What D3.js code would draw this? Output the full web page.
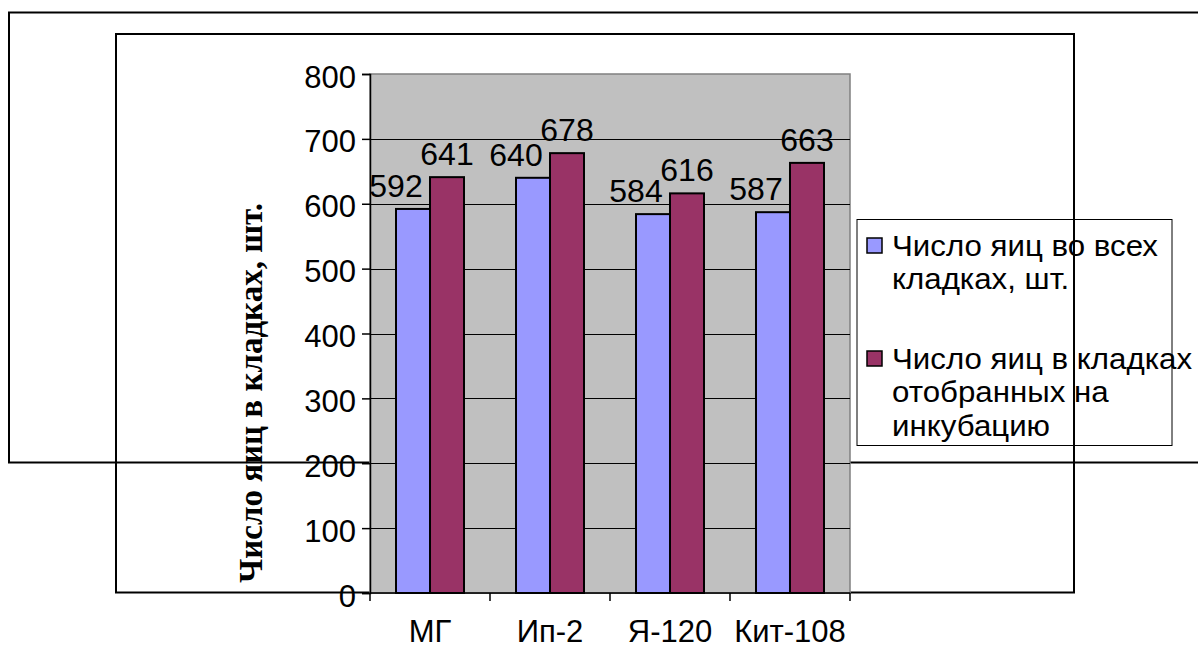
<!DOCTYPE html>
<html>
<head>
<meta charset="utf-8">
<script src="https://cdn.jsdelivr.net/npm/d3@7/dist/d3.min.js"></script>
<style>
  html, body { margin: 0; padding: 0; background: #fff; }
  svg { display: block; }
</style>
</head>
<body>
<svg id="chart" width="1198" height="648"></svg>
<script>
// Breeds (categories)
const categories = ["МГ", "Ип-2", "Я-120", "Кит-108"];
// Eggs in all clutches, pcs.
const eggsAll = [592, 640, 584, 587];
// Eggs in clutches selected for incubation
const eggsSelected = [641, 678, 616, 663];
// Series names
const seriesNames = ["Число яиц во всех кладках, шт.", "Число яиц в кладках отобранных на инкубацию"];
const seriesColors = ["#9999FF", "#993366"];
// Legend lines (wrapped)
const legendLines = [["Число яиц во всех", "кладках, шт."], ["Число яиц в кладках", "отобранных на", "инкубацию"]];
// Value axis ticks
const yTicks = [0, 100, 200, 300, 400, 500, 600, 700, 800];
const yTitle = "Число яиц в кладках, шт.";

const svg = d3.select("#chart");
const plot = { left: 370, right: 850, top: 74, bottom: 593 };

// Frames behind the chart
svg.append("rect").attr("x", 9).attr("y", 12.5).attr("width", 1250).attr("height", 450)
  .attr("fill", "none").attr("stroke", "#000").attr("stroke-width", 2);
svg.append("rect").attr("x", 116).attr("y", 34).attr("width", 958).attr("height", 558.5)
  .attr("fill", "none").attr("stroke", "#000").attr("stroke-width", 2);

const y = d3.scaleLinear().domain([0, 800]).range([plot.bottom, plot.top]);
const x0 = d3.scaleBand().domain(categories).range([plot.left, plot.right])
  .paddingInner(0.4333).paddingOuter(0.2167);
const x1 = d3.scaleBand().domain([0, 1]).range([0, x0.bandwidth()]);

// Plot area background
svg.append("rect").attr("x", plot.left).attr("y", plot.top)
  .attr("width", plot.right - plot.left).attr("height", plot.bottom - plot.top)
  .attr("fill", "#C0C0C0").attr("stroke", "#808080").attr("stroke-width", 1.5);

// Gridlines
svg.append("g").selectAll("line").data(yTicks.filter(d => d > 0 && d < 800)).join("line")
  .attr("x1", plot.left).attr("x2", plot.right)
  .attr("y1", d => Math.round(y(d)) + 0.5).attr("y2", d => Math.round(y(d)) + 0.5)
  .attr("stroke", "#000").attr("stroke-width", 1);

// Bars
const data = categories.map((c, i) => ({ cat: c, values: [eggsAll[i], eggsSelected[i]] }));
const groups = svg.append("g").selectAll("g").data(data).join("g")
  .attr("transform", d => `translate(${x0(d.cat)},0)`);
groups.selectAll("rect").data(d => d.values.map((v, k) => ({ v, k }))).join("rect")
  .attr("x", d => x1(d.k)).attr("width", x1.bandwidth())
  .attr("y", d => y(d.v)).attr("height", d => y(0) - y(d.v))
  .attr("fill", d => seriesColors[d.k]).attr("stroke", "#000").attr("stroke-width", 2);

// Value labels
groups.selectAll("text").data(d => d.values.map((v, k) => ({ v, k }))).join("text")
  .attr("x", d => x1(d.k) + x1.bandwidth() / 2 - (d.k === 0 ? 17 : 0))
  .attr("y", d => y(d.v) - 12)
  .attr("text-anchor", "middle")
  .attr("font-family", "Liberation Sans, Arial, sans-serif").attr("font-size", 32)
  .attr("fill", "#000").text(d => d.v);

// Value axis
const yAxis = svg.append("g").attr("transform", `translate(${plot.left},0)`)
  .call(d3.axisLeft(y).tickValues(yTicks).tickSize(8).tickPadding(6).tickFormat(d3.format("d")));
yAxis.select(".domain").attr("stroke", "#000").attr("stroke-width", 1.5);
yAxis.selectAll(".tick line").attr("stroke", "#000").attr("stroke-width", 1.5);
yAxis.selectAll(".tick text").attr("font-family", "Liberation Sans, Arial, sans-serif")
  .attr("font-size", 31).attr("fill", "#000").attr("dy", "0.42em");

// Category axis
const xAxis = svg.append("g").attr("transform", `translate(0,${plot.bottom})`);
xAxis.append("line").attr("x1", plot.left).attr("x2", plot.right).attr("y1", 0).attr("y2", 0)
  .attr("stroke", "#000").attr("stroke-width", 1.5);
const boundaries = [plot.left].concat(categories.map(c => x0(c) + x0.bandwidth() + x0.step() * x0.paddingInner() / 2));
xAxis.selectAll("line.tk").data(boundaries).join("line").attr("class", "tk")
  .attr("x1", d => d).attr("x2", d => d).attr("y1", 0).attr("y2", 8)
  .attr("stroke", "#000").attr("stroke-width", 1.5);
xAxis.selectAll("text").data(categories).join("text")
  .attr("x", d => x0(d) + x0.bandwidth() / 2).attr("y", 49)
  .attr("text-anchor", "middle")
  .attr("font-family", "Liberation Sans, Arial, sans-serif").attr("font-size", 31)
  .attr("fill", "#000").text(d => d);

// Axis title
svg.append("text")
  .attr("transform", "translate(262,393) rotate(-90)")
  .attr("text-anchor", "middle")
  .attr("font-family", "Liberation Serif, Times New Roman, serif").attr("font-weight", "bold")
  .attr("font-size", 33).attr("fill", "#000").text(yTitle);

// Legend
const legend = svg.append("g");
legend.append("rect").attr("x", 857).attr("y", 219.5).attr("width", 315).attr("height", 226)
  .attr("fill", "none").attr("stroke", "#000").attr("stroke-width", 1);
const entryTop = [256, 369];
seriesNames.forEach((name, k) => {
  legend.append("rect").attr("x", 867).attr("y", entryTop[k] - 18).attr("width", 15).attr("height", 15)
    .attr("fill", seriesColors[k]).attr("stroke", "#000").attr("stroke-width", 1.5);
  const t = legend.append("text")
    .attr("transform", "translate(892,0) scale(1.06,1)")
    .attr("font-family", "Liberation Sans, Arial, sans-serif")
    .attr("font-size", 29.5).attr("fill", "#000");
  legendLines[k].forEach((line, j) => {
    t.append("tspan").attr("x", 0).attr("y", entryTop[k] + j * 33.5).text(line);
  });
});
</script>
</body>
</html>
